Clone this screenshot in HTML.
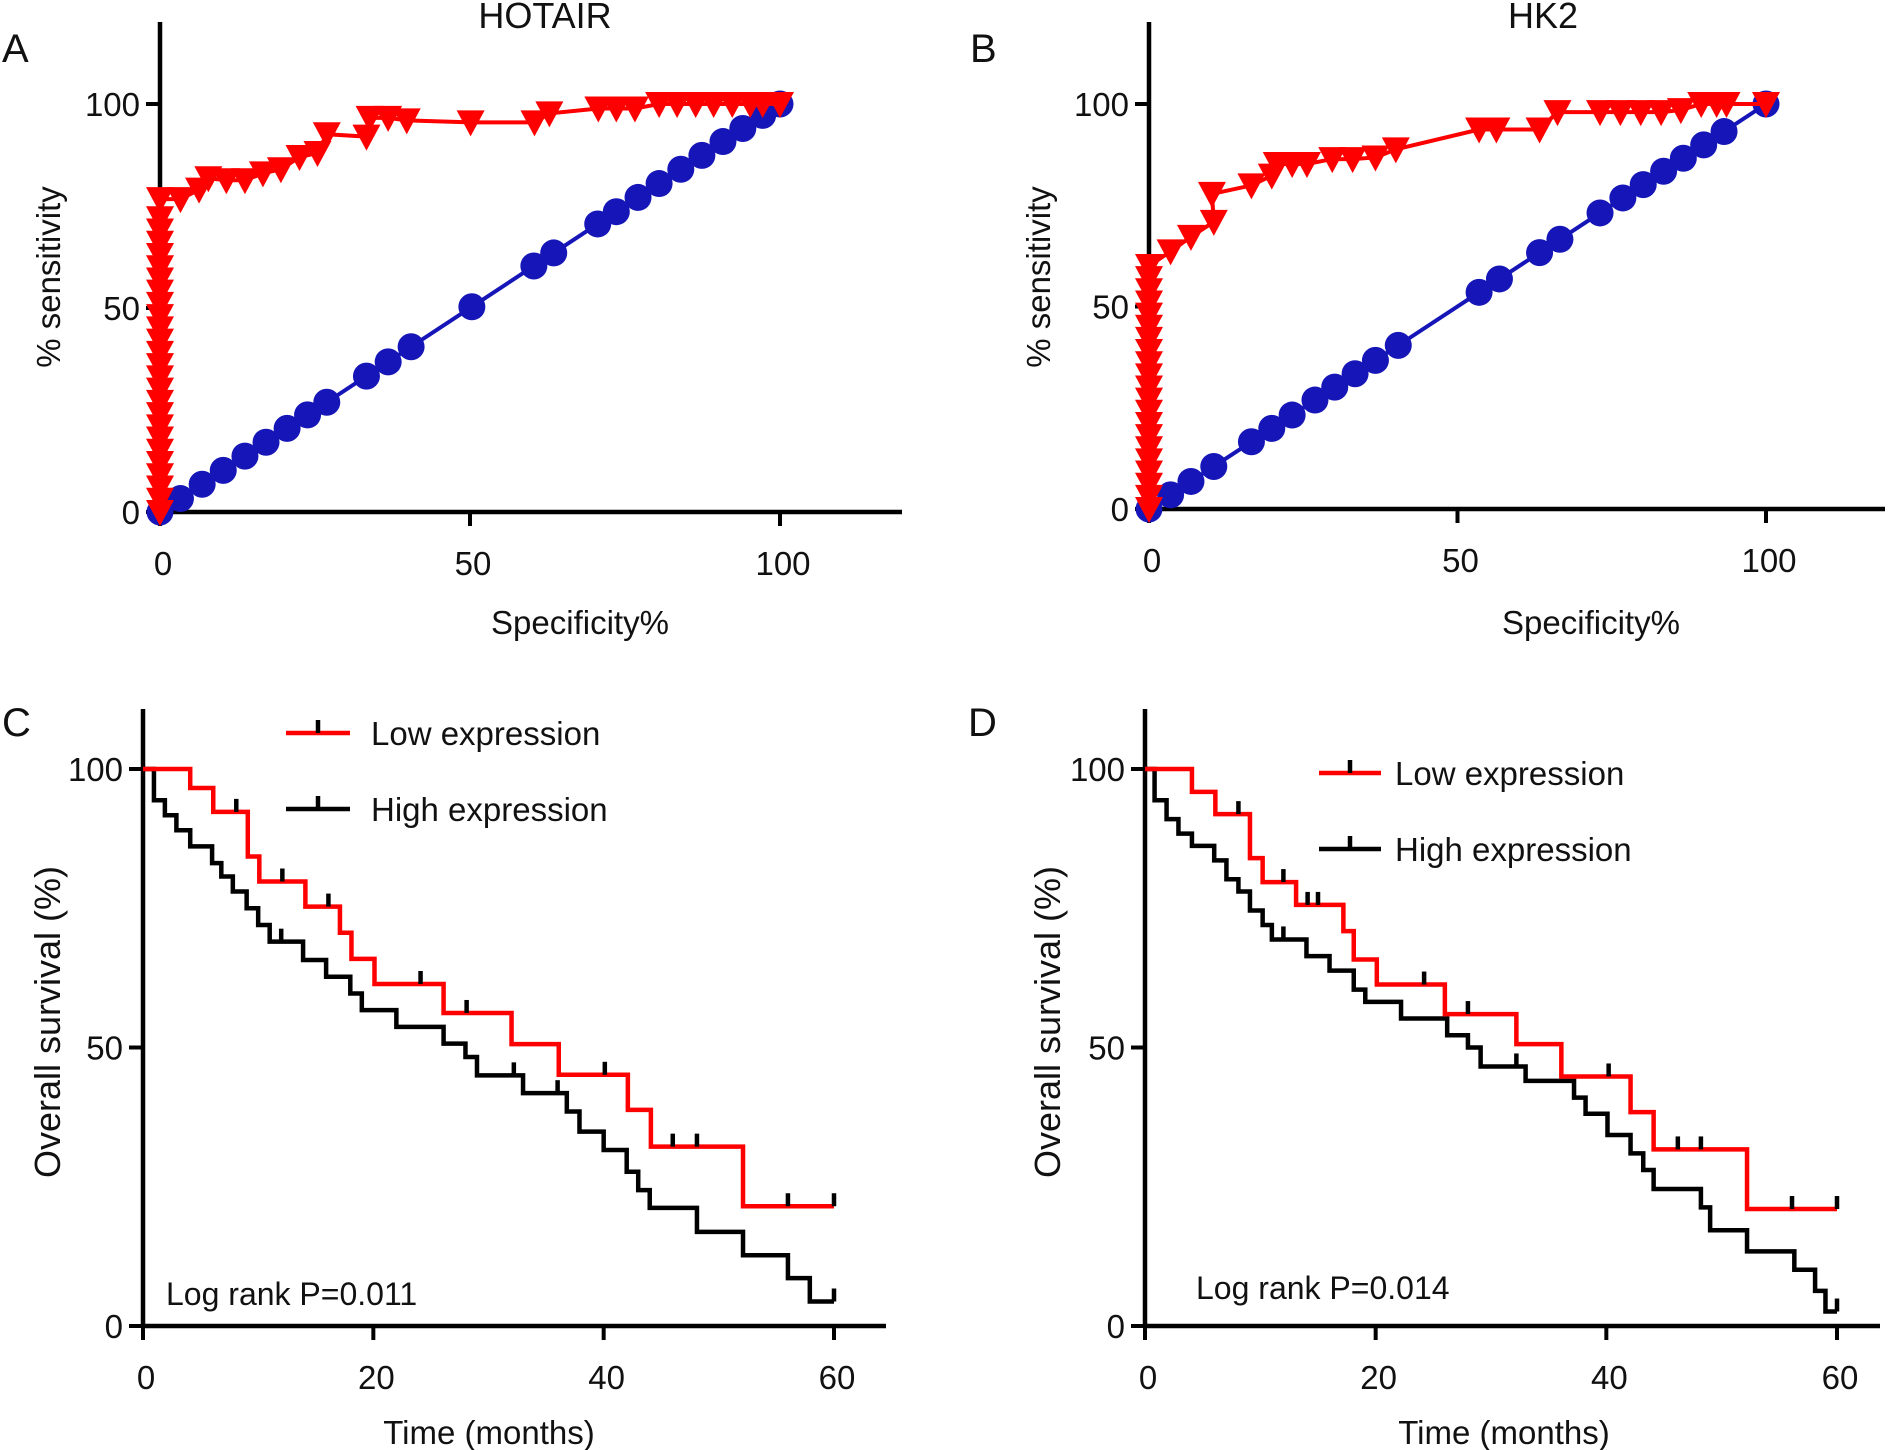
<!DOCTYPE html>
<html><head><meta charset="utf-8"><style>
html,body{margin:0;padding:0;background:#fff;}
svg{display:block;font-family:"Liberation Sans",sans-serif;}
</style></head><body>
<svg id="fig" width="1889" height="1450" viewBox="0 0 1889 1450" xmlns="http://www.w3.org/2000/svg">
<rect width="1889" height="1450" fill="#fff"/>
<text x="2" y="62" font-size="40" fill="#111">A</text>
<text x="970" y="62" font-size="40" fill="#111">B</text>
<text x="2" y="736" font-size="40" fill="#111">C</text>
<text x="968" y="736" font-size="40" fill="#111">D</text>
<text x="545" y="28" font-size="36" text-anchor="middle" fill="#111">HOTAIR</text>
<text x="1543" y="28" font-size="36" text-anchor="middle" fill="#111">HK2</text>
<g id="gA"></g>
<g id="gB"></g>
<g id="gC"></g>
<g id="gD"></g>
</svg>
<script>
// ROC HOTAIR
const rocTicks = [0, 50, 100];
const aRedX = [0,0,0,0,0,0,0,0,0,0,0,0,0,0,0,0,0,0,0,0,0,0,0,0,0,0,3.3,6.3,7.8,10.7,13.7,16.6,19.5,22.5,25.4,26.9,33.3,33.8,36.8,39.8,50.1,60.4,62.8,70.7,73.6,76.6,80.5,83.4,86.4,89.3,92.3,95.2,97.2,100];
const aRedY = [0,3,6,9,12,15,18,21,24,27,30,33,36,39,42,45,48,51,54,57,60,63,66,69,72,76.7,76.7,79,81.8,81.3,81.3,83,84,87,88,92.6,92,96.6,96.6,96,95.5,95.5,97.7,98.9,98.9,98.9,100,100,100,100,100,100,100,100];
const aBlueX = [0,3.3,6.8,10.2,13.7,17.1,20.5,23.8,26.9,33.3,36.8,40.5,50.3,60.3,63.5,70.6,73.6,77.1,80.5,84,87.4,90.8,94,97.2,100];
const aBlueY = [0,3.3,6.8,10.2,13.7,17.1,20.5,23.8,26.9,33.3,36.8,40.5,50.3,60.3,63.5,70.6,73.6,77.1,80.5,84,87.4,90.8,94,97.2,100];
// ROC HK2
const bRedX = [0,0,0,0,0,0,0,0,0,0,0,0,0,0,0,0,0,0,0,0,0,3.5,6.8,10.5,10.2,16.6,19.9,20.7,23.2,25.6,29.7,33,36.7,40,53.5,56.3,63.3,66.2,73.1,76.4,79.7,83,86.2,89.5,92,93.6,100];
const bRedY = [0,3,6,9,12,15,18,21,24,27,30,33,36,39,42,45,48,51,54,57,60,63.6,67.2,70.9,77.8,79.9,82.3,85.2,85.2,85.2,86.4,86.4,86.8,88.8,93.7,93.7,93.7,98,98,98,98,98,98.5,100,100,100,100];
const bBlueX = [0,3.5,6.8,10.5,16.6,19.9,23.2,26.9,30.1,33.4,36.7,40.4,53.5,56.8,63.3,66.6,73.1,76.8,80.1,83.4,86.6,89.9,93.2,100];
const bBlueY = [0,3.5,6.8,10.5,16.6,19.9,23.2,26.9,30.1,33.4,36.7,40.4,53.5,56.8,63.3,66.6,73.1,76.8,80.1,83.4,86.6,89.9,93.2,100];
// Survival HOTAIR (C)
const kmTicksX = [0, 20, 40, 60];
const kmTicksY = [0, 50, 100];
const cLowT = [0,4.1,6.1,9.1,10.1,14.1,17.1,18.1,20.1,26.1,32.0,36.1,42.1,44.1,52.1];
const cLowS = [100,96.6,92.3,84.3,79.8,75.3,70.6,65.9,61.4,56.2,50.6,45.1,38.8,32.2,21.5];
const cLowCensT = [8.1,12.1,16.1,24.1,28.1,40.1,46,48.1,56,60];
const cHighT = [0,0.95,1.9,2.9,4.1,6.0,6.8,7.8,9.0,10.0,11.0,13.9,15.9,18.0,19.0,22.0,26.1,28.0,29.0,33.0,36.8,37.9,40.0,42.0,43.0,44.0,48.1,52.1,56.0,57.9];
const cHighS = [100,94.4,91.7,89.0,86.1,83.1,80.7,78.0,75.0,72.0,69.0,65.7,62.7,59.7,56.7,53.7,50.7,48.3,45.0,41.8,38.5,34.9,31.6,27.7,24.4,21.2,16.9,12.7,8.6,4.4];
const cHighCensT = [12.0,32.2,36.0,60];
// Survival HK2 (D)
const dLowT = [0,4.07,6.1,9.1,10.2,13.1,17.2,18.1,20.1,26.0,32.2,36.1,42.1,44.1,52.2];
const dLowS = [100,95.9,91.9,84,79.7,75.6,70.9,65.8,61.3,56,50.6,44.8,38.4,31.7,21.0];
const dLowCensT = [8.1,12.0,14.1,15.0,24.2,28.0,40.2,46.2,48.2,56.1,60];
const dHighT = [0,0.83,1.87,2.9,4.07,6.0,7.06,8.1,9.1,10.2,11.0,14.0,16.0,18.1,19.1,22.2,26.2,28.0,29.1,33.0,37.2,38.2,40.1,42.1,43.2,44.1,48.2,49.0,52.2,56.3,58.1,59.0];
const dHighS = [100,94.4,91,88.4,86.2,83.6,80.2,78,74.6,72,69.4,66.4,63.8,60.4,58.2,55.2,52.2,50,46.6,44,41,38.1,34.3,31,28,24.6,21.3,17.2,13.4,10.1,6.3,2.6];
const dHighCensT = [12.0,32.2,60];

const NS = 'http://www.w3.org/2000/svg';
function mk(parent, tag, attrs){ const e=document.createElementNS(NS,tag); for(const k in attrs) e.setAttribute(k,attrs[k]); parent.appendChild(e); return e; }

function axes(g, xs, ys, cfg){
  const ax = mk(g,'line',{x1:xs(cfg.xmin),y1:ys(0),x2:cfg.xend,y2:ys(0),stroke:'#000','stroke-width':4.5});
  
  
  const ay = mk(g,'line',{x1:xs(cfg.xmin),y1:cfg.ytop,x2:xs(cfg.xmin),y2:ys(0)+2,stroke:'#000','stroke-width':4.5});
  
  
  cfg.xt.forEach(v=>{
    const t = mk(g,'line',{x1:xs(v),y1:ys(0),x2:xs(v),y2:ys(0)+14,stroke:'#000','stroke-width':4});
    
    
    const l = mk(g,'text',{x:xs(v)+3,y:ys(0)+63,'font-size':33,'text-anchor':'middle',fill:'#111'});
    
    
    l.textContent = v;
  });
  cfg.yt.forEach(v=>{
    const t = mk(g,'line',{x1:xs(cfg.xmin)-14,y1:ys(v),x2:xs(cfg.xmin),y2:ys(v),stroke:'#000','stroke-width':4});
    
    
    const l = mk(g,'text',{x:xs(cfg.xmin)-20,y:ys(v)+12,'font-size':33,'text-anchor':'end',fill:'#111'});
    
    
    l.textContent = v;
  });
  const xt = mk(g,'text',{x:cfg.xtx,y:cfg.xty,'font-size':33,'text-anchor':'middle',fill:'#111'});
  
  
  xt.textContent = cfg.xtitle;
  const yt = mk(g,'text',{x:0,y:0,'font-size':cfg.yfs,'text-anchor':'middle',fill:'#111',transform:`translate(${cfg.ytx},${cfg.yty}) rotate(-90)`});
  
  
  yt.textContent = cfg.ytitle;
}

function roc(g, x0, x100, y0, y100, redX, redY, blueX, blueY, cfg){
  const xs = v => x0 + (x100-x0)*v/100;
  const ys = v => y0 - (y0-y100)*v/100;
  axes(g, xs, ys, Object.assign({xmin:0,xt:rocTicks,yt:rocTicks,yfs:33},cfg));
  const bl = mk(g,'polyline',{points:blueX.map((v,i)=>xs(v)+','+ys(blueY[i])).join(' '),fill:'none',stroke:'#1515b8','stroke-width':4});
  
  
  blueX.forEach((v,i)=>{
    const c = mk(g,'circle',{cx:xs(v),cy:ys(blueY[i]),r:13.5,fill:'#1515b8'});
    
    
  });
  const rl = mk(g,'polyline',{points:redX.map((v,i)=>xs(v)+','+ys(redY[i])).join(' '),fill:'none',stroke:'#f00','stroke-width':4});
  
  
  redX.forEach((v,i)=>{
    const cx=xs(v), cy=ys(redY[i]);
    const p = mk(g,'polygon',{points:`${cx-14},${cy-12} ${cx+14},${cy-12} ${cx},${cy+14}`,fill:'#f00'});
    
    
  });
}

function km(g, x0, x60, y0, y100, lowT, lowS, lowC, highT, highS, highC, cfg){
  const xs = v => x0 + (x60-x0)*v/60;
  const ys = v => y0 - (y0-y100)*v/100;
  axes(g, xs, ys, Object.assign({xmin:0,xt:kmTicksX,yt:kmTicksY,yfs:36},cfg));
  function curve(T,S,C,color,name){
    let d = `M${xs(T[0])},${ys(S[0])}`;
    for(let i=1;i<T.length;i++){ d += ` H${xs(T[i])} V${ys(S[i])}`; }
    d += ` H${xs(60)}`;
    const p = mk(g,'path',{d:d,fill:'none',stroke:color,'stroke-width':4.5});
    
    
    C.forEach(t=>{
      let s=S[0]; for(let i=0;i<T.length;i++){ if(T[i]<=t) s=S[i]; }
      const c = mk(g,'line',{x1:xs(t),y1:ys(s),x2:xs(t),y2:ys(s)-13,stroke:'#000','stroke-width':4.5});
      
      
    });
  }
  curve(highT,highS,highC,'#000','high-expression');
  curve(lowT,lowS,lowC,'#f00','low-expression');
  const L = cfg.leg;
  [['#f00','Low expression',0,'legend-low'],['#000','High expression',L.dy,'legend-high']].forEach(e=>{
    const ln = mk(g,'line',{x1:L.x1,y1:L.y+e[2],x2:L.x2,y2:L.y+e[2],stroke:e[0],'stroke-width':4.5});
    
    
    const tk = mk(g,'line',{x1:(L.x1+L.x2)/2,y1:L.y+e[2],x2:(L.x1+L.x2)/2,y2:L.y+e[2]-13,stroke:'#000','stroke-width':4.5});
    
    
    const tx = mk(g,'text',{x:L.tx,y:L.y+e[2]+12,'font-size':33,fill:'#111'});
    
    
    tx.textContent = e[1];
  });
  const lr = mk(g,'text',{x:cfg.lrx,y:cfg.lry,'font-size':32,fill:'#111'});
  
  
  lr.textContent = cfg.lr;
}

roc(document.getElementById('gA'),160,780,512,104,aRedX,aRedY,aBlueX,aBlueY,
  {xend:902,ytop:22,xtx:580,xty:634,xtitle:'Specificity%',ytx:60,yty:277,ytitle:'% sensitivity'});
roc(document.getElementById('gB'),1149,1766,509,104,bRedX,bRedY,bBlueX,bBlueY,
  {xend:1885,ytop:22,xtx:1591,xty:634,xtitle:'Specificity%',ytx:1050,yty:277,ytitle:'% sensitivity'});
km(document.getElementById('gC'),143,834,1326,769,cLowT,cLowS,cLowCensT,cHighT,cHighS,cHighCensT,
  {xend:886,ytop:709,xtx:489,xty:1444,xtitle:'Time (months)',ytx:60,yty:1022,ytitle:'Overall survival (%)',
   leg:{x1:286,x2:350,tx:371,y:733,dy:76},lrx:166,lry:1305,lr:'Log rank P=0.011'});
km(document.getElementById('gD'),1145,1837,1326,769,dLowT,dLowS,dLowCensT,dHighT,dHighS,dHighCensT,
  {xend:1880,ytop:709,xtx:1504,xty:1444,xtitle:'Time (months)',ytx:1060,yty:1022,ytitle:'Overall survival (%)',
   leg:{x1:1319,x2:1381,tx:1395,y:773,dy:76},lrx:1196,lry:1299,lr:'Log rank P=0.014'});
</script>
</body></html>
